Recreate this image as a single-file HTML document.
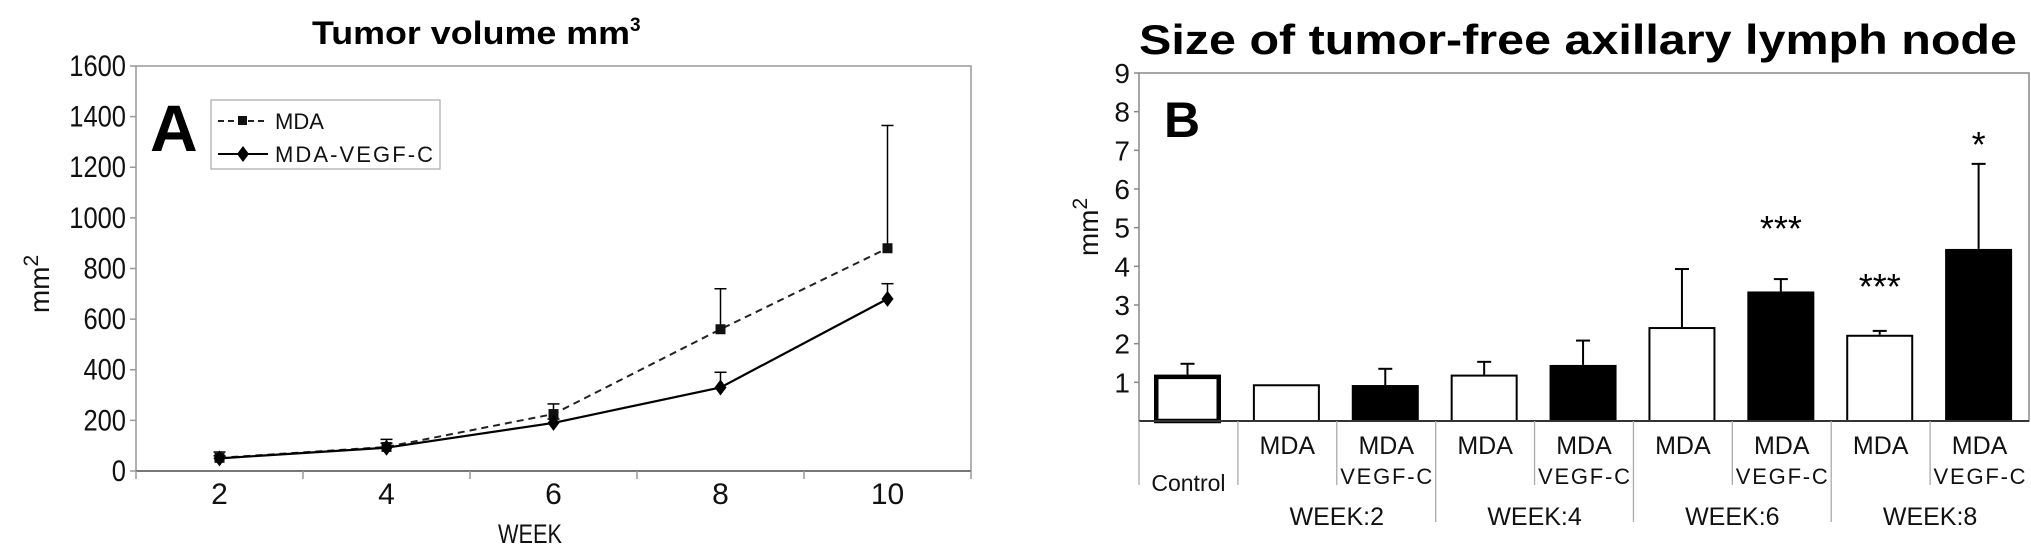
<!DOCTYPE html>
<html><head><meta charset="utf-8"><style>
html,body{margin:0;padding:0;background:#fff;}
svg{display:block;font-family:"Liberation Sans",sans-serif;}
</style></head><body>
<svg id="chart" width="2031" height="554" viewBox="0 0 2031 554" xmlns="http://www.w3.org/2000/svg">
<g id="pa"></g>
<g id="pb"></g>
</svg>
<script>
// Panel A data
const weeksA = ["2","4","6","8","10"];
const mdaVals = [52, 95, 225, 560, 880];
const mdaErr = [75, 125, 265, 720, 1365];
const vegfVals = [50, 92, 190, 330, 680];
const vegfErr = [60, 110, 205, 390, 740];
const yTicksA = [0,200,400,600,800,1000,1200,1400,1600];
// Panel B data
const catsB = ["Control","MDA","MDA VEGF-C","MDA","MDA VEGF-C","MDA","MDA VEGF-C","MDA","MDA VEGF-C"];
const barVals = [1.2, 0.95, 0.93, 1.2, 1.45, 2.43, 3.35, 2.23, 4.45];
const barErr = [1.48, 0.95, 1.35, 1.53, 2.08, 3.93, 3.67, 2.33, 6.65];
const barFill = ["w","w","b","w","b","w","b","w","b"];
const stars = ["","","","","","","***","***","*"];
const groupsB = ["WEEK:2","WEEK:4","WEEK:6","WEEK:8"];
const yTicksB = [1,2,3,4,5,6,7,8,9];

const NS="http://www.w3.org/2000/svg";
function mk(parent,tag,attrs,text){const e=document.createElementNS(NS,tag);for(const k in attrs)e.setAttribute(k,attrs[k]);if(text!==undefined)e.textContent=text;parent.appendChild(e);return e;}

// ---- Panel A ----
const pa=document.getElementById('pa');
const aL=136,aR=971,aT=66,aB=471;
const ax=i=>aL+(aR-aL)/weeksA.length*(i+0.5);
const ay=v=>aB-(aB-aT)*v/1600;
let fr=mk(pa,'rect',{x:aL,y:aT,width:aR-aL,height:aB-aT,fill:'none',stroke:'#999','stroke-width':1.5});

let xa=mk(pa,'line',{x1:aL,y1:aB,x2:aR,y2:aB,stroke:'#777','stroke-width':2});

for(let i=0;i<=weeksA.length;i++){const x=aL+(aR-aL)/weeksA.length*i;let t=mk(pa,'line',{x1:x,y1:aB,x2:x,y2:aB+8,stroke:'#999','stroke-width':1.5});}
yTicksA.forEach(v=>{let t=mk(pa,'text',{x:aL-10,y:ay(v)+10,'text-anchor':'end','font-size':30,fill:'#111',transform:`translate(${aL-10},0) scale(0.85,1) translate(${-(aL-10)},0)`},v);
 let tk=mk(pa,'line',{x1:aL-6,y1:ay(v),x2:aL,y2:ay(v),stroke:'#999','stroke-width':1.5});});
weeksA.forEach((w,i)=>{let t=mk(pa,'text',{x:ax(i),y:504,'text-anchor':'middle','font-size':30,fill:'#111'},w);});
let xt=mk(pa,'text',{x:530,y:543,'text-anchor':'middle','font-size':27,fill:'#111',textLength:64,lengthAdjust:'spacingAndGlyphs'},'WEEK');
let yt=mk(pa,'text',{x:0,y:0,'text-anchor':'middle','font-size':28,fill:'#111',transform:'translate(49,284) rotate(-90)'});
yt.innerHTML='mm<tspan dy="-11" font-size="21">2</tspan>';
let ti=mk(pa,'text',{x:312,y:44,'font-size':32,'font-weight':'bold',fill:'#000'});
ti.innerHTML='<tspan textLength="318" lengthAdjust="spacingAndGlyphs">Tumor volume mm</tspan><tspan dy="-13" font-size="19">3</tspan>';
// error bars
function errA(vals,errs,name){vals.forEach((v,i)=>{let l=mk(pa,'line',{x1:ax(i),y1:ay(v),x2:ax(i),y2:ay(errs[i]),stroke:'#000','stroke-width':1.5});
 let c=mk(pa,'line',{x1:ax(i)-6,y1:ay(errs[i]),x2:ax(i)+6,y2:ay(errs[i]),stroke:'#000','stroke-width':1.5});});}
errA(mdaVals,mdaErr,'mda');errA(vegfVals,vegfErr,'vegf');
let lm=mk(pa,'polyline',{points:mdaVals.map((v,i)=>ax(i)+','+ay(v)).join(' '),fill:'none',stroke:'#222','stroke-width':2,'stroke-dasharray':'7,5'});
let lv=mk(pa,'polyline',{points:vegfVals.map((v,i)=>ax(i)+','+ay(v)).join(' '),fill:'none',stroke:'#000','stroke-width':2.2});
mdaVals.forEach((v,i)=>{let r=mk(pa,'rect',{x:ax(i)-5,y:ay(v)-5,width:10,height:10,fill:'#111'});});
vegfVals.forEach((v,i)=>{let p=mk(pa,'polygon',{points:`${ax(i)},${ay(v)-8} ${ax(i)+6},${ay(v)} ${ax(i)},${ay(v)+8} ${ax(i)-6},${ay(v)}`,fill:'#000'});});
// legend
let lg=mk(pa,'g',{});
mk(lg,'rect',{x:211,y:100,width:229,height:69,fill:'#fff',stroke:'#aaa','stroke-width':1.2});
mk(lg,'line',{x1:218,y1:121,x2:268,y2:121,stroke:'#222','stroke-width':2,'stroke-dasharray':'6,4'});
mk(lg,'rect',{x:238,y:116,width:9,height:9,fill:'#111'});
let le1=mk(lg,'text',{x:275,y:129,'font-size':22,fill:'#111'},'MDA');
mk(lg,'line',{x1:218,y1:154,x2:268,y2:154,stroke:'#000','stroke-width':2});
mk(lg,'polygon',{points:'243,146 249,154 243,162 237,154',fill:'#000'});
let le2=mk(lg,'text',{x:275,y:162,'font-size':22,fill:'#111',textLength:158},'MDA-VEGF-C');
let la=mk(pa,'text',{x:150,y:151,'font-size':66,'font-weight':'bold',fill:'#000'},'A');

// ---- Panel B ----
const pb=document.getElementById('pb');
const bL=1139,bR=2029,bT=73,bB=421;
const cw=(bR-bL)/catsB.length;
const by=v=>bB-(bB-bT)*v/9;
const starGap={6:38,7:32,8:7};
let fb=mk(pb,'rect',{x:bL,y:bT,width:bR-bL,height:bB-bT,fill:'none',stroke:'#888','stroke-width':1.5});
yTicksB.forEach(v=>{let t=mk(pb,'text',{x:1130,y:by(v)+10,'text-anchor':'end','font-size':28,fill:'#111'},v);
 let tk=mk(pb,'line',{x1:bL-5,y1:by(v),x2:bL,y2:by(v),stroke:'#888','stroke-width':1.5});});
barVals.forEach((v,i)=>{const x0=bL+cw*i+15,w=67;
 if(barErr[i]>v){let l=mk(pb,'line',{x1:x0+w/2,y1:by(v),x2:x0+w/2,y2:by(barErr[i]),stroke:'#000','stroke-width':2});
 let c=mk(pb,'line',{x1:x0+w/2-7,y1:by(barErr[i]),x2:x0+w/2+7,y2:by(barErr[i]),stroke:'#000','stroke-width':2});}
 const sw=i===0?4.5:2;
 let r=mk(pb,'rect',{x:x0+sw/2,y:by(v)+sw/2,width:w-sw,height:bB-by(v)-sw/2,fill:barFill[i]==='b'?'#000':'#fff',stroke:'#000','stroke-width':sw});
 
 if(stars[i]){let s=mk(pb,'text',{x:x0+w/2,y:by(barErr[i])-(starGap[i]||20),'text-anchor':'middle','font-size':36,fill:'#000'},stars[i]);}
});
let xb=mk(pb,'line',{x1:bL,y1:bB,x2:bR,y2:bB,stroke:'#333','stroke-width':2});
for(let i=0;i<catsB.length;i++){const x=bL+cw*i;const grp=(i===3||i===5||i===7);const y2=grp?522:485;
 let l=mk(pb,'line',{x1:x,y1:bB,x2:x,y2:y2,stroke:'#aaa','stroke-width':1.3});}
catsB.forEach((c,i)=>{const cx=bL+cw*(i+0.5);
 if(c==='Control'){let t=mk(pb,'text',{x:cx,y:491,'text-anchor':'middle','font-size':23,fill:'#111'},c);return;}
 let t=mk(pb,'text',{x:cx,y:454,'text-anchor':'middle','font-size':25,fill:'#111'},'MDA');
 if(c.includes('VEGF')){let t2=mk(pb,'text',{x:cx,y:484,'text-anchor':'middle','font-size':22,fill:'#111',textLength:92},'VEGF-C');}
});
groupsB.forEach((g,j)=>{const cx=bL+cw*(1+2*j+1);let t=mk(pb,'text',{x:cx,y:525,'text-anchor':'middle','font-size':25,fill:'#111'},g);});
let ybt=mk(pb,'text',{x:0,y:0,'text-anchor':'middle','font-size':28,fill:'#111',transform:'translate(1098,227) rotate(-90)'});
ybt.innerHTML='mm<tspan dy="-11" font-size="21">2</tspan>';
let tb=mk(pb,'text',{x:1139,y:54,'font-size':42,'font-weight':'bold',fill:'#000',textLength:878,lengthAdjust:'spacingAndGlyphs'},'Size of tumor-free axillary lymph node');
let lb=mk(pb,'text',{x:1164,y:137,'font-size':50,'font-weight':'bold',fill:'#000'},'B');
</script>
</body></html>
